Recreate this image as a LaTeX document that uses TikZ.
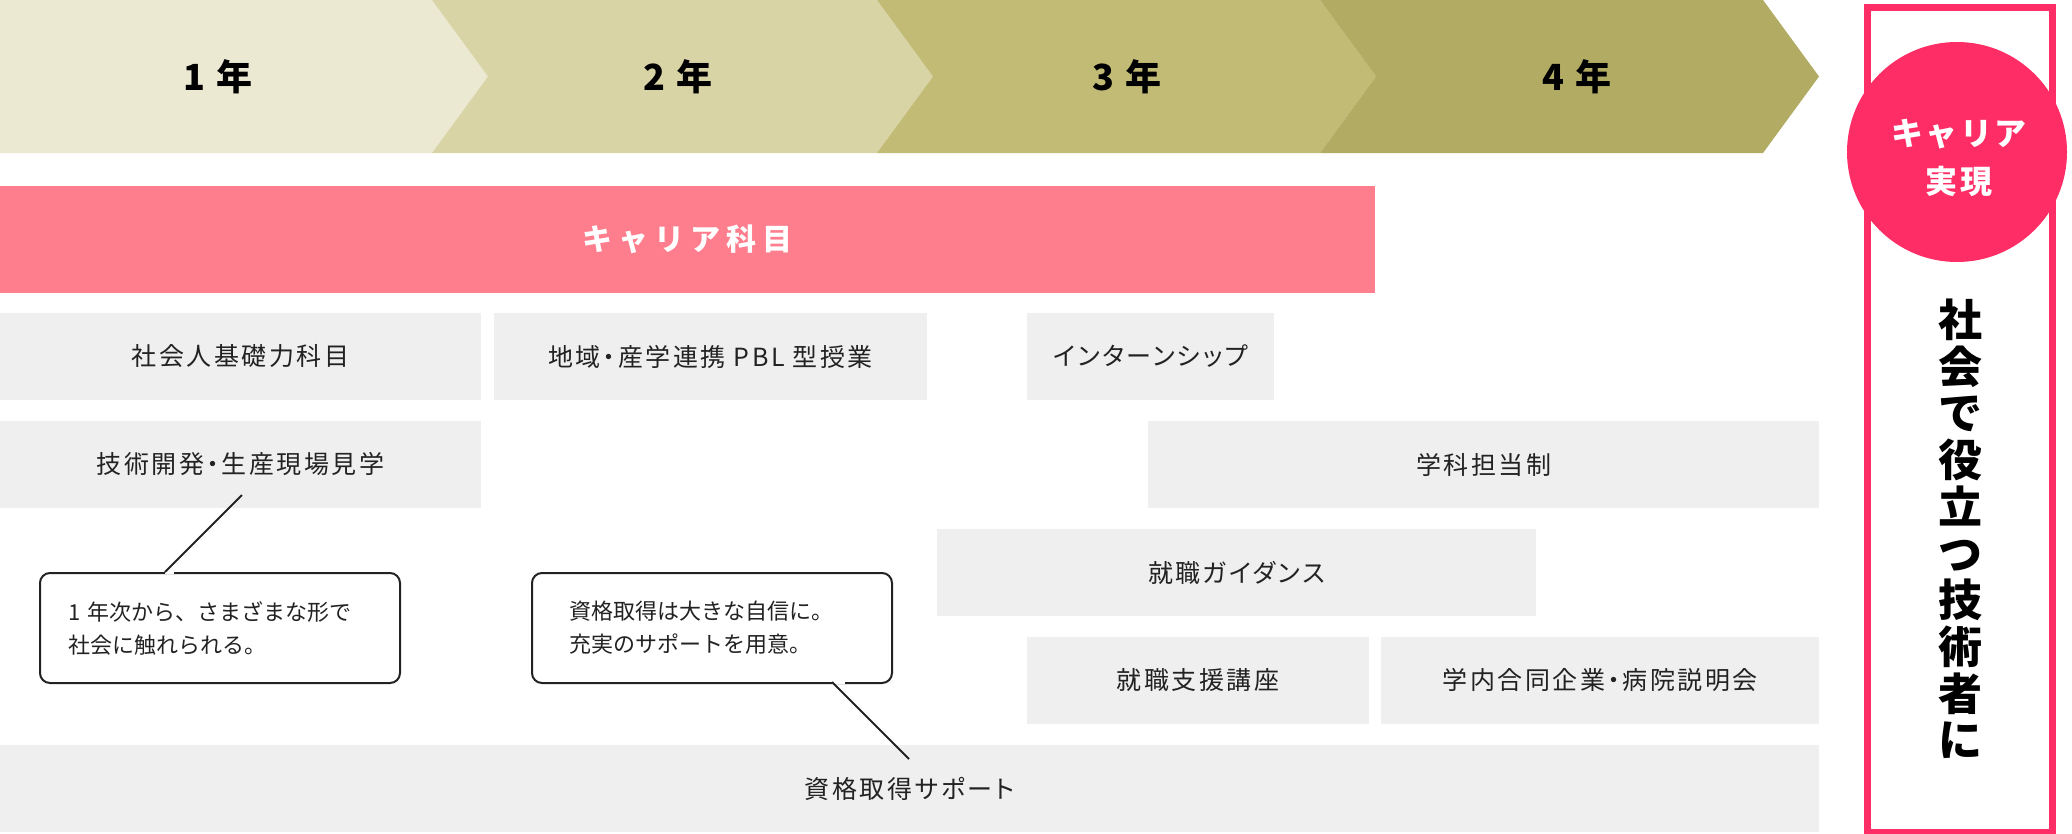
\documentclass[tikz,border=0pt]{standalone}
\usepackage{fontspec}
\setmainfont{Noto Sans CJK JP}
\definecolor{yA}{HTML}{ECE9D2}
\definecolor{yB}{HTML}{D9D4A6}
\definecolor{yC}{HTML}{C2BB75}
\definecolor{yD}{HTML}{B2AB63}
\definecolor{pinkbar}{HTML}{FF7E8E}
\definecolor{hot}{HTML}{FF2D66}
\definecolor{boxgray}{HTML}{EFEFEF}
\definecolor{ink}{HTML}{222222}
\tikzset{
  item/.style={fill=boxgray, anchor=north west, inner sep=0pt, outer sep=0pt,
    minimum height=87pt, text=ink,
    font=\fontsize{25}{30}\selectfont\addfontfeature{RawFeature=+palt,LetterSpace=10}},
  yearlab/.style={font=\bfseries\fontsize{36}{40}\selectfont, text=black, inner sep=0pt},
  callbox/.style={draw=ink, line width=2pt, fill=white, rounded corners=10pt,
    anchor=north west, minimum width=360pt, minimum height=110pt,
    text width=304pt, inner xsep=28pt, inner ysep=0pt, align=left, text=ink,
    font=\fontsize{22}{33}\selectfont},
  ptr/.style={draw=ink, line width=2pt},
  gapline/.style={draw=white, line width=3pt},
}
\begin{document}
\begin{tikzpicture}[x=1pt, y=-1pt]
\useasboundingbox (0,0) rectangle (2072,833);
% banner
\fill[yA] (0,0) -- (432,0) -- (488,76.5) -- (432,153) -- (0,153) -- cycle;
\fill[yB] (432,0) -- (877,0) -- (933,76.5) -- (877,153) -- (432,153) -- (488,76.5) -- cycle;
\fill[yC] (877,0) -- (1320,0) -- (1376,76.5) -- (1320,153) -- (877,153) -- (933,76.5) -- cycle;
\fill[yD] (1320,0) -- (1763,0) -- (1819,76.5) -- (1763,153) -- (1320,153) -- (1376,76.5) -- cycle;
\node[yearlab] (yr1) at (218,77) {1\hspace{12pt}年};
\node[yearlab] (yr2) at (678,77) {2\hspace{12pt}年};
\node[yearlab] (yr3) at (1127,77) {3\hspace{12pt}年};
\node[yearlab] (yr4) at (1577,77) {4\hspace{12pt}年};
% career bar
\node[fill=pinkbar, anchor=north west, inner sep=0pt, minimum width=1375pt, minimum height=107pt,
  text=white, font=\bfseries\fontsize{30}{34}\selectfont\addfontfeature{LetterSpace=20}] (carbar) at (0,186) {キャリア科目};
% rows
\node[item, minimum width=481pt] (kiso) at (0,313) {社会人基礎力科目};
\node[item, minimum width=433pt] (pbl) at (494,313) {地域・産学連携 PBL 型授業};
\node[item, minimum width=247pt] (intern) at (1027,313) {インターンシップ};
\node[item, minimum width=481pt] (kengaku) at (0,421) {技術開発・生産現場見学};
\node[item, minimum width=671pt] (tanto) at (1148,421) {学科担当制};
\node[item, minimum width=599pt] (guide) at (937,529) {就職ガイダンス};
\node[item, minimum width=342pt] (koza) at (1027,637) {就職支援講座};
\node[item, minimum width=438pt] (setsumei) at (1381,637) {学内合同企業・病院説明会};
\node[item, minimum width=1819pt] (shikaku) at (0,745) {資格取得サポート};
% callouts
\node[callbox] (c1) at (39,572) {1 年次から、さまざまな形で\\社会に触れられる。};
\node[callbox, inner xsep=37pt, text width=286pt] (c2) at (531,572) {資格取得は大きな自信に。\\充実のサポートを用意。};
\coordinate (c1root) at (165,572);
\coordinate (c1tip) at (242,495);
\coordinate (c1gap) at (174,572);
\coordinate (c2root) at (832,682);
\coordinate (c2tip) at (909,759);
\coordinate (c2gap) at (845,682);
\draw[gapline] (c1root) -- (c1gap);
\draw[gapline] (c2root) -- (c2gap);
\draw[ptr] (c1root) -- (c1tip);
\draw[ptr] (c2root) -- (c2tip);
% right frame
\node[draw=hot, line width=7pt, anchor=north west, inner sep=0pt, minimum width=185pt, minimum height=825pt] (frame) at (1863.5,3.5) {};
\node[circle, fill=hot, minimum size=220pt, inner sep=0pt] (career) at (1957,152) {};
\node[text=white, align=center, inner sep=0pt,
  font=\bfseries\fontsize{32}{48}\selectfont\addfontfeature{LetterSpace=8}] (careertxt) at (1959,158) {キャリア\\実現};
\node[align=center, inner sep=0pt, text=black, font=\bfseries\fontsize{44}{46.7}\selectfont] (goal) at (1960,529)
  {社\\会\\で\\役\\立\\つ\\技\\術\\者\\に};
\end{tikzpicture}
\end{document}
